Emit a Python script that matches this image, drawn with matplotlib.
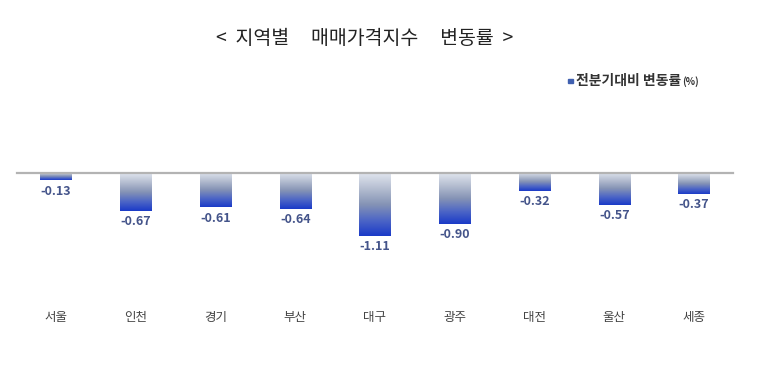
import matplotlib
matplotlib.use("Agg")
import matplotlib.pyplot as plt
import numpy as np
from matplotlib.colors import LinearSegmentedColormap

plt.rcParams['font.family'] = ['Noto Sans CJK KR', 'DejaVu Sans']

categories = ['서울', '인천', '경기', '부산', '대구', '광주', '대전', '울산', '세종']
values = [-0.13, -0.67, -0.61, -0.64, -1.11, -0.90, -0.32, -0.57, -0.37]
title = '<  지역별     매매가격지수     변동률  >'
legend_label = '전분기대비 변동률'

W, H = 779, 371
fig = plt.figure(figsize=(W / 100, H / 100), dpi=100)
ax = fig.add_axes([0, 0, 1, 1])
ax.set_axis_off()

px_per_idx = 79.75
x0_px = 56
px_per_unit = 56.5
base_px_from_bottom = H - 173

cmap = LinearSegmentedColormap.from_list(
    'g', ['#e0e5ee', '#b4bdd0', '#8593b5', '#4d66c6', '#1a3ac8'])
grad = np.linspace(0, 1, 256).reshape(-1, 1)

x = np.arange(len(categories))
bars = ax.bar(x, values, width=0.39, color='none', edgecolor='none', zorder=2)
for b in bars:
    bx, by = b.get_x(), b.get_y()
    bw, bh = b.get_width(), b.get_height()
    im = ax.imshow(grad, cmap=cmap, aspect='auto', origin='upper',
                   extent=[bx, bx + bw, by + bh, by], zorder=2,
                   interpolation='bilinear')
    im.set_clip_path(b)
ax.set_xlim(-x0_px / px_per_idx, (W - x0_px) / px_per_idx)
ax.set_ylim(-base_px_from_bottom / px_per_unit, (H - base_px_from_bottom) / px_per_unit)

ax.plot([-0.49, 8.49], [0, 0], color='#b3b3b3', lw=1.6, zorder=3)

for xi, v in zip(x, values):
    ax.annotate(f'{v:.2f}', (xi, v), xytext=(0, -3), textcoords='offset points',
                ha='center', va='top', fontsize=9, fontweight='bold',
                color='#44548a')

for xi, c in zip(x, categories):
    ax.text(xi, -(317 - 173) / px_per_unit, c, ha='center', va='center',
            fontsize=9, color='#444444')

fig.text(365 / W, 1 - 38 / H, title, ha='center', va='center',
         fontsize=14, color='#222222')

fig.patches.append(plt.Rectangle((568 / W, 1 - 83 / H), 5 / W, 4 / H,
                                 transform=fig.transFigure, color='#4060b0',
                                 figure=fig))
lt = fig.text(576 / W, 1 - 81 / H, legend_label, ha='left', va='center',
              fontsize=10, fontweight='bold', color='#333333')
fig.canvas.draw()
bb = lt.get_window_extent()
fig.text((bb.x1 + 1) / W, 1 - 82 / H, '(%)', ha='left', va='center',
         fontsize=7, fontweight='bold', color='#333333')

fig.savefig('out.png', dpi=100)
